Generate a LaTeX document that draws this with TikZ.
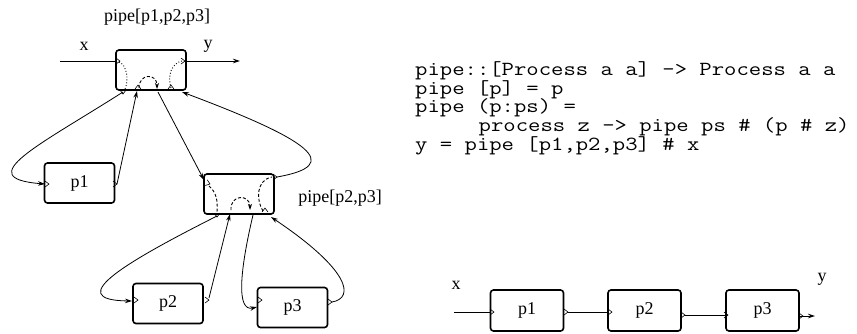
\documentclass[tikz,border=0pt]{standalone}
\usepackage{fontspec}
\usepackage{graphicx}
\setmainfont{Liberation Serif}
\usetikzlibrary{arrows.meta,calc}
\newcommand\chevmark[3]{\draw[portmark,shift={(#1,#2)},rotate=#3] (-4,-3)--(0,0)--(-4,3);}
\newcommand\codeline[1]{\scalebox{1.2}[1]{#1}}
\begin{document}
\begin{tikzpicture}[x=1pt,y=-1pt,
  proc/.style={draw, line width=1.6pt, rounded corners=3pt, minimum width=70pt, minimum height=40pt, inner sep=0pt, font=\fontsize{18}{20}\selectfont},
  wire/.style={line width=0.8pt},
  arr/.style={wire, -{Stealth[length=7pt,width=4.5pt]}},
  portmark/.style={line width=0.6pt},
  dotcurve/.style={line width=0.9pt, dotted},
  dashcurve/.style={line width=0.9pt, dash pattern=on 3pt off 2pt},
  lbl/.style={font=\fontsize{18}{20}\selectfont, inner sep=0pt},
  code/.style={font=\ttfamily\fontsize{20}{22}\selectfont, anchor=base west, inner sep=0pt}
]
\useasboundingbox (0,0) rectangle (857,333);

% ---------- left: recursive pipe ----------
\node[proc] (T) at (151,70) {};
\node[proc] (P1) at (79.5,183) {p1};
\node[proc] (Q) at (239,194) {};
\node[proc] (P2) at (168,303.5) {p2};
\node[proc] (P3) at (292.5,307.5) {p3};

\node[lbl] (lT) at (157,17) {pipe[p1,p2,p3]};
\node[lbl] (lQ) at (340,198) {pipe[p2,p3]};
\node[lbl] (lx) at (84,46) {x};
\node[lbl] (ly) at (208,46) {y};

\coordinate (xin) at (60,61);
\coordinate (yout) at (240,61);
\draw[wire] (xin) -- (xin -| T.west);
\draw[arr] (yout -| T.east) -- (yout);
\chevmark{120}{61}{0}
\chevmark{185}{61}{0}

% inside T
\draw[dotcurve] (119,62) .. controls (127,65) and (129,80) .. (125,89);
\draw[dashcurve,-{Stealth[length=6pt,width=4pt]}] (139,88) .. controls (139,73) and (157,73) .. (157,89);
\draw[dotcurve] (171,88) .. controls (167,75) and (172,63) .. (182,61);
\chevmark{123}{94}{-90}
\chevmark{138}{85}{90}
\chevmark{171}{85}{90}

% T <-> P1
\coordinate (t1) at (123,92);
\coordinate (p1i) at (45,184);
\coordinate (p1o) at (117,184);
\coordinate (t2) at (137,91);
\draw[arr] (t1) .. controls (40,145) and (-30,178) .. (p1i);
\draw[arr] (p1o) -- (t2);
\chevmark{49}{184}{0}
\chevmark{117}{184}{0}

% T <-> Q
\coordinate (t3) at (158,92);
\coordinate (qi) at (204,180);
\coordinate (qo) at (277,177);
\coordinate (t4) at (182,92);
\draw[arr] (t3) -- (qi);
\draw[arr] (qo) .. controls (345,165) and (310,140) .. (t4);
\chevmark{210}{184}{-20}
\chevmark{277}{177}{0}

% inside Q
\draw[dashcurve] (209,186) .. controls (216,192) and (218,200) .. (217,212);
\draw[dashcurve,-{Stealth[length=6pt,width=4pt]}] (231,210) .. controls (230,194) and (250,194) .. (250,210);
\draw[dashcurve] (263,211) .. controls (256,200) and (256,180) .. (272,177);
\chevmark{217}{217}{-90}
\chevmark{265}{208}{90}

% Q <-> P2
\coordinate (q1) at (217,216);
\coordinate (p2i) at (132,301);
\coordinate (p2o) at (209,298);
\coordinate (q2) at (230,214);
\draw[arr] (q1) .. controls (130,260) and (60,300) .. (p2i);
\draw[arr] (p2o) -- (q2);
\chevmark{138}{300}{0}
\chevmark{209}{300}{0}

% Q <-> P3
\coordinate (q3) at (253,215);
\coordinate (p3i) at (257,307);
\coordinate (p3o) at (332,302);
\coordinate (q4) at (271,217);
\draw[arr] (q3) .. controls (240,270) and (236,312) .. (p3i);
\draw[arr] (p3o) .. controls (355,298) and (350,270) .. (q4);
\chevmark{262}{300}{0}
\chevmark{332}{302}{0}

% ---------- right: code ----------
\node[code] (c1) at (415,75.5) {\codeline{pipe::[Process a a] -> Process a a}};
\node[code] (c2) at (415,94.2) {\codeline{pipe [p] = p}};
\node[code] (c3) at (415,112.9) {\codeline{pipe (p:ps) =}};
\node[code] (c4) at (478.5,131.6) {\codeline{process z -> pipe ps \# (p \# z)}};
\node[code] (c5) at (415,150.3) {\codeline{y = pipe [p1,p2,p3] \# x}};

% ---------- bottom right: unfolded chain ----------
\node[proc, minimum width=73pt, minimum height=41pt] (B1) at (527,310.5) {p1};
\node[proc, minimum width=73pt, minimum height=41pt] (B2) at (644.5,310.5) {p2};
\node[proc, minimum width=73pt, minimum height=41pt] (B3) at (762.5,310.5) {p3};
\node[lbl] (bx) at (456,285) {x};
\node[lbl] (by) at (822,279) {y};

\coordinate (bin) at (454,312);
\coordinate (bout) at (815,316);
\draw[wire] (bin) -- (bin -| B1.west);
\draw[wire] (568,312) -- (B2.west |- 0,312);
\draw[wire] (685,315) -- (B3.west |- 0,315);
\draw[arr] (B3.east |- bout) -- (bout);
\chevmark{494}{312}{0}
\chevmark{568}{312}{0}
\chevmark{612}{312}{0}
\chevmark{685}{315}{0}
\chevmark{728}{315}{0}
\chevmark{803}{316}{0}
\end{tikzpicture}
\end{document}
